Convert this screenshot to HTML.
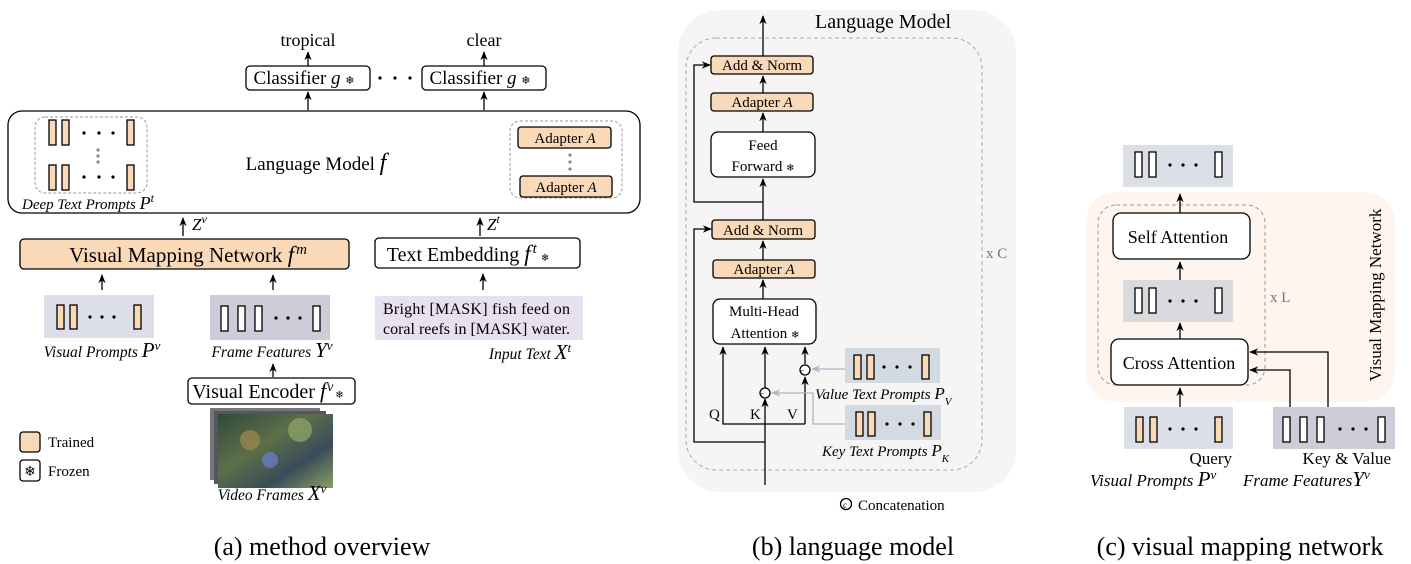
<!DOCTYPE html>
<html><head><meta charset="utf-8"><style>
html,body{margin:0;padding:0;background:#fff}
svg{display:block;font-family:"Liberation Serif",serif}
</style></head><body>
<svg width="1411" height="564" viewBox="0 0 1411 564" xmlns="http://www.w3.org/2000/svg">
<defs>
<marker id="ar" viewBox="0 0 10 10" refX="9" refY="5" markerWidth="7" markerHeight="7" orient="auto-start-reverse"><path d="M0,1 L10,5 L0,9 L3,5 z" fill="#000"/></marker>
<marker id="ag" viewBox="0 0 10 10" refX="9" refY="5" markerWidth="7" markerHeight="7" orient="auto"><path d="M0,1 L10,5 L0,9 L3,5 z" fill="#a9b6c6"/></marker>
<linearGradient id="vid" x1="0" y1="0" x2="1" y2="1"><stop offset="0" stop-color="#2e4a3a"/><stop offset="0.4" stop-color="#5c6f48"/><stop offset="0.7" stop-color="#3a4c5a"/><stop offset="1" stop-color="#8aa060"/></linearGradient>
</defs>
<g stroke="#000" stroke-width="1.3" fill="none">
<line x1="308" y1="66" x2="308" y2="52" marker-end="url(#ar)"/>
<line x1="484" y1="66" x2="484" y2="52" marker-end="url(#ar)"/>
<rect x="246" y="66" width="124" height="24" rx="4" fill="#fff"/>
<rect x="422" y="66" width="124" height="24" rx="4" fill="#fff"/>
<line x1="308" y1="110" x2="308" y2="92" marker-end="url(#ar)"/>
<line x1="484" y1="110" x2="484" y2="92" marker-end="url(#ar)"/>
<rect x="8" y="111" width="632" height="102" rx="14" fill="#fff"/>
<rect x="35" y="117" width="112" height="76" rx="10" stroke="#999" stroke-dasharray="3,2" stroke-width="1"/>
<rect x="510" y="121" width="112" height="77" rx="10" stroke="#999" stroke-dasharray="3,2" stroke-width="1"/>
<rect x="518" y="127" width="93" height="21" rx="3" fill="#fad9b8"/>
<rect x="520" y="176" width="92" height="21" rx="3" fill="#fad9b8"/>
<g fill="#fad9b8">
<rect x="49" y="120" width="7" height="25"/><rect x="62" y="120" width="7" height="25"/><rect x="127" y="120" width="7" height="25"/>
<rect x="49" y="165" width="7" height="25"/><rect x="62" y="165" width="7" height="25"/><rect x="127" y="165" width="7" height="25"/>
</g>
<line x1="183" y1="236" x2="183" y2="218" marker-end="url(#ar)"/>
<line x1="480" y1="236" x2="480" y2="218" marker-end="url(#ar)"/>
<rect x="20" y="239" width="329" height="30" rx="4" fill="#fad9b8"/>
<rect x="375" y="238" width="205" height="30" rx="4" fill="#fff"/>
<line x1="102" y1="290" x2="102" y2="275" marker-end="url(#ar)"/>
<line x1="273" y1="290" x2="273" y2="275" marker-end="url(#ar)"/>
<line x1="483" y1="290" x2="483" y2="274" marker-end="url(#ar)"/>
<rect x="44" y="295" width="110" height="43" fill="#dcdfe8" stroke="none"/>
<rect x="210" y="295" width="120" height="45" fill="#cfcbd8" stroke="none"/>
<rect x="375" y="296" width="208" height="44" fill="#e7e0f0" stroke="none"/>
<g fill="#fad9b8"><rect x="57" y="305" width="7" height="24"/><rect x="70" y="305" width="7" height="24"/><rect x="134" y="305" width="7" height="24"/></g>
<g fill="#fff"><rect x="221" y="306" width="7" height="25"/><rect x="238" y="306" width="7" height="25"/><rect x="255" y="306" width="7" height="25"/><rect x="313" y="306" width="7" height="25"/></g>
<line x1="273" y1="377" x2="273" y2="364" marker-end="url(#ar)"/>
<rect x="188" y="378" width="167" height="26" rx="4" fill="#fff"/>
<rect x="20" y="432" width="20" height="20" rx="3" fill="#fad9b8"/>
<rect x="20" y="460" width="20" height="21" rx="3" fill="#fff"/>
<!-- b -->
<rect x="678" y="10" width="338" height="482" rx="42" fill="#f6f4f5" stroke="none"/>
<rect x="686" y="38" width="296" height="432" rx="30" stroke="#aaa" stroke-dasharray="4,3" stroke-width="1"/>
<line x1="763" y1="56" x2="763" y2="16" marker-end="url(#ar)"/>
<rect x="711" y="56" width="102" height="18" rx="3" fill="#fad9b8"/>
<rect x="711" y="93" width="102" height="18" rx="3" fill="#fad9b8"/>
<rect x="711" y="132" width="104" height="45" rx="7" fill="#fff"/>
<rect x="712" y="220" width="103" height="19" rx="3" fill="#fad9b8"/>
<rect x="713" y="260" width="102" height="18" rx="3" fill="#fad9b8"/>
<rect x="713" y="299" width="103" height="45" rx="7" fill="#fff"/>
<line x1="763" y1="93" x2="763" y2="76" marker-end="url(#ar)"/>
<line x1="763" y1="132" x2="763" y2="113" marker-end="url(#ar)"/>
<line x1="763" y1="220" x2="763" y2="179" marker-end="url(#ar)"/>
<line x1="763" y1="260" x2="763" y2="241" marker-end="url(#ar)"/>
<line x1="763" y1="299" x2="763" y2="280" marker-end="url(#ar)"/>
<polyline points="763,202 694,202 694,65 710,65" marker-end="url(#ar)"/>
<polyline points="765,442 694,442 694,229 711,229" marker-end="url(#ar)"/>
<line x1="765" y1="485" x2="765" y2="399" marker-end="url(#ar)"/>
<line x1="765" y1="388" x2="765" y2="347" marker-end="url(#ar)"/>
<polyline points="805,424 723,424 723,347" marker-end="url(#ar)"/>
<line x1="805" y1="424" x2="805" y2="377" marker-end="url(#ar)"/>
<line x1="805" y1="364" x2="805" y2="347" marker-end="url(#ar)"/>
<circle cx="765" cy="393" r="5" fill="#fff"/>
<circle cx="805" cy="370" r="5" fill="#fff"/>
<rect x="845" y="348" width="95" height="35" fill="#d3dae2" stroke="none"/>
<rect x="845" y="405" width="96" height="35" fill="#d3dae2" stroke="none"/>
<g fill="#fad9b8"><rect x="854" y="355" width="7" height="24"/><rect x="867" y="355" width="7" height="24"/><rect x="922" y="355" width="7" height="24"/>
<rect x="856" y="412" width="7" height="24"/><rect x="868" y="412" width="7" height="24"/><rect x="924" y="412" width="7" height="24"/></g>
<line x1="845" y1="369" x2="812" y2="369" stroke="#a9b6c6" marker-end="url(#ag)"/>
<polyline points="845,424 813,424 813,393 772,393" stroke="#a9b6c6" marker-end="url(#ag)"/>
<circle cx="846" cy="504" r="5.5"/>
<!-- c -->
<rect x="1123" y="145" width="110" height="42" fill="#dcdfe8" stroke="none"/>
<rect x="1086" y="192" width="309" height="210" rx="30" fill="#fdf5ee" stroke="none"/>
<rect x="1098" y="205" width="167" height="180" rx="18" stroke="#999" stroke-dasharray="4,3" stroke-width="1"/>
<rect x="1113" y="213" width="137" height="46" rx="8" fill="#fff"/>
<rect x="1123" y="280" width="110" height="42" fill="#d9d9de" stroke="none"/>
<rect x="1111" y="339" width="137" height="46" rx="8" fill="#fff"/>
<line x1="1180" y1="213" x2="1180" y2="194" marker-end="url(#ar)"/>
<line x1="1180" y1="280" x2="1180" y2="262" marker-end="url(#ar)"/>
<line x1="1180" y1="339" x2="1180" y2="323" marker-end="url(#ar)"/>
<line x1="1180" y1="407" x2="1180" y2="388" marker-end="url(#ar)"/>
<rect x="1124" y="407" width="109" height="42" fill="#dcdfe8" stroke="none"/>
<rect x="1273" y="407" width="122" height="42" fill="#cfcbd8" stroke="none"/>
<polyline points="1290,407 1290,370 1250,370" marker-end="url(#ar)"/>
<polyline points="1328,407 1328,352 1250,352" marker-end="url(#ar)"/>
<g fill="#fff"><rect x="1135" y="152" width="7" height="25"/><rect x="1149" y="152" width="7" height="25"/><rect x="1215" y="152" width="7" height="25"/>
<rect x="1135" y="288" width="7" height="25"/><rect x="1149" y="288" width="7" height="25"/><rect x="1215" y="288" width="7" height="25"/>
<rect x="1283" y="417" width="7" height="25"/><rect x="1300" y="417" width="7" height="25"/><rect x="1317" y="417" width="7" height="25"/><rect x="1378" y="417" width="7" height="25"/></g>
<g fill="#fad9b8"><rect x="1136" y="417" width="7" height="25"/><rect x="1150" y="417" width="7" height="25"/><rect x="1215" y="417" width="7" height="25"/></g>
</g>
<g fill="#000">
<circle cx="84" cy="133" r="1.6"/><circle cx="99" cy="133" r="1.6"/><circle cx="113" cy="133" r="1.6"/>
<circle cx="84" cy="177" r="1.6"/><circle cx="99" cy="177" r="1.6"/><circle cx="113" cy="177" r="1.6"/>
<circle cx="90" cy="317" r="1.6"/><circle cx="102" cy="317" r="1.6"/><circle cx="114" cy="317" r="1.6"/>
<circle cx="276" cy="318" r="1.6"/><circle cx="288" cy="318" r="1.6"/><circle cx="300" cy="318" r="1.6"/>
<circle cx="884" cy="367" r="1.6"/><circle cx="897" cy="367" r="1.6"/><circle cx="910" cy="367" r="1.6"/>
<circle cx="887" cy="424" r="1.6"/><circle cx="900" cy="424" r="1.6"/><circle cx="913" cy="424" r="1.6"/>
<circle cx="1170" cy="165" r="1.6"/><circle cx="1183" cy="165" r="1.6"/><circle cx="1196" cy="165" r="1.6"/>
<circle cx="1170" cy="301" r="1.6"/><circle cx="1183" cy="301" r="1.6"/><circle cx="1196" cy="301" r="1.6"/>
<circle cx="1340" cy="429" r="1.6"/><circle cx="1353" cy="429" r="1.6"/><circle cx="1366" cy="429" r="1.6"/>
<circle cx="1170" cy="429" r="1.6"/><circle cx="1183" cy="429" r="1.6"/><circle cx="1196" cy="429" r="1.6"/>
<circle cx="380" cy="78" r="1.6"/><circle cx="395" cy="78" r="1.6"/><circle cx="410" cy="78" r="1.6"/>
</g>
<g fill="#888"><circle cx="98" cy="150" r="1.6"/><circle cx="98" cy="156" r="1.6"/><circle cx="98" cy="162" r="1.6"/>
<circle cx="570" cy="155" r="1.6"/><circle cx="570" cy="162" r="1.6"/><circle cx="570" cy="169" r="1.6"/></g>
<rect x="210" y="408" width="110" height="72" fill="#777"/>
<rect x="214" y="411" width="112" height="73" fill="#556"/>
<rect x="218" y="414" width="115" height="74" fill="url(#vid)"/>
<circle cx="250" cy="440" r="10" fill="#a08a50" opacity="0.7"/>
<circle cx="270" cy="460" r="8" fill="#6a7abf" opacity="0.8"/>
<circle cx="300" cy="430" r="12" fill="#9fb070" opacity="0.6"/>
<g font-size="18" text-anchor="middle">
<text x="308" y="46">tropical</text><text x="484" y="46">clear</text>
<text x="304" y="84" font-size="19">Classifier <tspan font-style="italic">g</tspan> <tspan font-size="11">❄</tspan></text>
<text x="480" y="84" font-size="19">Classifier <tspan font-style="italic">g</tspan> <tspan font-size="11">❄</tspan></text>
<text x="316" y="170" font-size="19">Language Model  <tspan font-style="italic" font-size="24">f</tspan></text>
<text x="188" y="262" font-size="21">Visual Mapping Network  <tspan font-style="italic" font-size="23">f</tspan><tspan font-style="italic" font-size="15" dx="2" baseline-shift="super">m</tspan></text>
<text x="468" y="261" font-size="20">Text Embedding  <tspan font-style="italic" font-size="23">f</tspan><tspan font-style="italic" font-size="15" dx="2" baseline-shift="super">t</tspan><tspan font-size="10" dx="4">❄</tspan></text>
<text x="268" y="398" font-size="20">Visual Encoder <tspan font-style="italic" font-size="22">f</tspan><tspan font-style="italic" font-size="14" dx="1" baseline-shift="super">v</tspan><tspan font-size="10" dx="2">❄</tspan></text>
</g>
<g font-size="14">
<text x="565" y="143" text-anchor="middle" font-size="15">Adapter  <tspan font-style="italic">A</tspan></text>
<text x="566" y="192" text-anchor="middle" font-size="15">Adapter  <tspan font-style="italic">A</tspan></text>
<text x="22" y="209" font-style="italic" font-size="15">Deep Text Prompts <tspan font-size="18">P</tspan><tspan font-size="12" baseline-shift="super">t</tspan></text>
<text x="192" y="230" font-style="italic" font-size="17">Z<tspan font-size="12" baseline-shift="super">v</tspan></text>
<text x="487" y="230" font-style="italic" font-size="17">Z<tspan font-size="12" baseline-shift="super">t</tspan></text>
<text x="383" y="314" font-size="16" textLength="187">Bright  [MASK] fish feed on</text>
<text x="383" y="334" font-size="16" textLength="187">coral reefs in [MASK] water.</text>
<text x="102" y="357" text-anchor="middle" font-style="italic" font-size="15.5">Visual Prompts  <tspan font-size="21">P</tspan><tspan font-size="13" baseline-shift="super">v</tspan></text>
<text x="272" y="357" text-anchor="middle" font-style="italic" font-size="15.5">Frame Features <tspan font-size="21">Y</tspan><tspan font-size="13" baseline-shift="super">v</tspan></text>
<text x="530" y="359" text-anchor="middle" font-style="italic" font-size="15.5">Input Text  <tspan font-size="21">X</tspan><tspan font-size="13" baseline-shift="super">t</tspan></text>
<text x="272" y="500" text-anchor="middle" font-style="italic" font-size="15.5">Video Frames  <tspan font-size="21">X</tspan><tspan font-size="13" baseline-shift="super">v</tspan></text>
<text x="48" y="447" font-size="15">Trained</text>
<text x="48" y="476" font-size="15">Frozen</text>
<text x="30" y="476" font-size="14" text-anchor="middle">❄</text>
<text x="815" y="28" font-size="20">Language Model</text>
<text x="762" y="70" text-anchor="middle" font-size="15">Add &amp; Norm</text>
<text x="762" y="107" text-anchor="middle" font-size="15">Adapter <tspan font-style="italic">A</tspan></text>
<text x="763" y="150" text-anchor="middle" font-size="15">Feed</text>
<text x="763" y="171" text-anchor="middle" font-size="15">Forward <tspan font-size="10">❄</tspan></text>
<text x="763" y="235" text-anchor="middle" font-size="15">Add &amp; Norm</text>
<text x="764" y="274" text-anchor="middle" font-size="15">Adapter <tspan font-style="italic">A</tspan></text>
<text x="764" y="316" text-anchor="middle" font-size="15">Multi-Head</text>
<text x="765" y="338" text-anchor="middle" font-size="15">Attention <tspan font-size="10">❄</tspan></text>
<text x="709" y="419" font-size="15">Q</text><text x="750" y="419" font-size="15">K</text><text x="787" y="419" font-size="15">V</text>
<text x="762" y="397" text-anchor="middle" font-size="8">c</text>
<text x="802" y="374" text-anchor="middle" font-size="8">c</text>
<text x="815" y="399" font-style="italic" font-size="15">Value Text Prompts <tspan font-size="17">P</tspan><tspan font-size="11" baseline-shift="sub">V</tspan></text>
<text x="822" y="456" font-style="italic" font-size="15">Key Text Prompts <tspan font-size="17">P</tspan><tspan font-size="11" baseline-shift="sub">K</tspan></text>
<text x="986" y="258" fill="#777" font-size="15">x C</text>
<text x="843" y="508" font-size="9">c</text>
<text x="858" y="510" font-size="15">Concatenation</text>
<text x="1178" y="243" text-anchor="middle" font-size="18">Self Attention</text>
<text x="1179" y="369" text-anchor="middle" font-size="18">Cross Attention</text>
<text x="1270" y="302" fill="#777" font-size="15">x L</text>
<text transform="translate(1381,295) rotate(-90)" text-anchor="middle" font-size="17">Visual Mapping Network</text>
<text x="1232" y="464" text-anchor="end" font-size="17">Query</text>
<text x="1391" y="464" text-anchor="end" font-size="17">Key &amp; Value</text>
<text x="1090" y="486" font-style="italic" font-size="17">Visual Prompts <tspan font-size="21">P</tspan><tspan font-size="13" baseline-shift="super">v</tspan></text>
<text x="1243" y="486" font-style="italic" font-size="17">Frame Features<tspan font-size="21">Y</tspan><tspan font-size="13" baseline-shift="super">v</tspan></text>
</g>
<g font-size="26" text-anchor="middle">
<text x="322" y="555">(a) method overview</text>
<text x="853" y="555">(b) language model</text>
<text x="1240" y="555">(c) visual mapping network</text>
</g>
</svg>
</body></html>
